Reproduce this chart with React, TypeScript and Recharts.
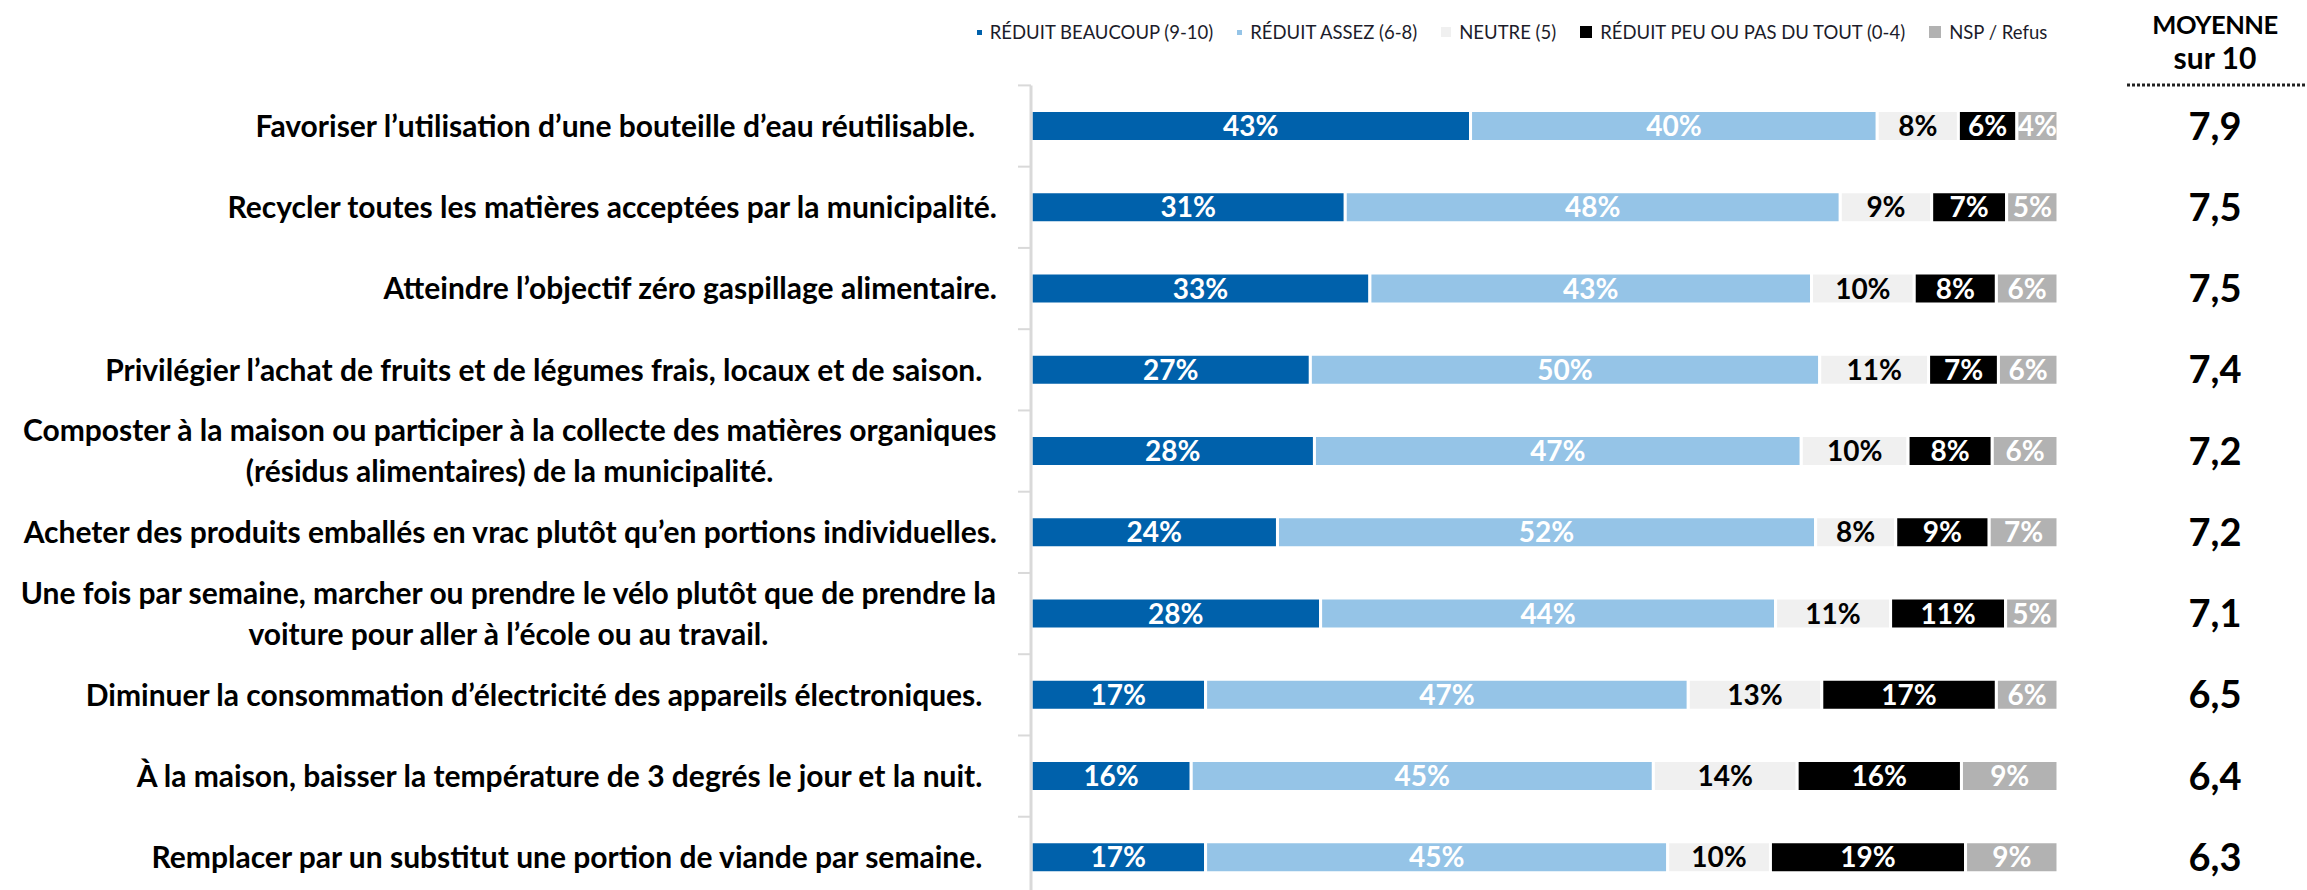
import React from 'react';
import { BarChart, Bar, XAxis, YAxis, LabelList, Legend } from 'recharts';

// ---------- DATA ----------
const categories: string[] = [
  'Favoriser l’utilisation d’une bouteille d’eau réutilisable.\u00A0\u00A0\u00A0',
  'Recycler toutes les matières acceptées par la municipalité.',
  'Atteindre l’objectif zéro gaspillage alimentaire.',
  'Privilégier l’achat de fruits et de légumes frais, locaux et de saison.\u00A0\u00A0',
  'Composter à la maison ou participer à la collecte des matières organiques\n(résidus alimentaires) de la municipalité.',
  'Acheter des produits emballés en vrac plutôt qu’en portions individuelles.',
  'Une fois par semaine, marcher ou prendre le vélo plutôt que de prendre la\nvoiture pour aller à l’école ou au travail.',
  'Diminuer la consommation d’électricité des appareils électroniques.\u00A0\u00A0',
  'À la maison, baisser la température de 3 degrés le jour et la nuit.\u00A0\u00A0',
  'Remplacer par un substitut une portion de viande par semaine.\u00A0\u00A0',
];

const reduitBeaucoup: number[] = [42.8, 30.6, 33, 27.2, 27.6, 24, 28.2, 17, 15.6, 17];
const reduitAssez: number[] = [39.6, 48.2, 43, 49.6, 47.4, 52.4, 44.3, 47, 45, 45];
const neutre: number[] = [7.9, 8.9, 10, 10.6, 10.4, 7.8, 11.2, 13, 14, 10];
const reduitPeu: number[] = [5.7, 7.3, 8, 6.8, 8.2, 9.1, 11.2, 17, 16, 19];
const nspRefus: number[] = [4.0, 5.0, 6, 5.8, 6.4, 6.7, 5.1, 6, 9.4, 9];

const moyennes: number[] = [7.9, 7.5, 7.5, 7.4, 7.2, 7.2, 7.1, 6.5, 6.4, 6.3];

const seriesNames: string[] = [
  'RÉDUIT BEAUCOUP (9-10)',
  'RÉDUIT ASSEZ (6-8)',
  'NEUTRE (5)',
  'RÉDUIT PEU OU PAS DU TOUT (0-4)',
  'NSP / Refus',
];
const seriesKeys = ['s0', 's1', 's2', 's3', 's4'];
const seriesValues = [reduitBeaucoup, reduitAssez, neutre, reduitPeu, nspRefus];
const seriesColors = ['#0061AB', '#95C4E7', '#F0F0F0', '#000000', '#B2B2B2'];
const labelColors = ['#FFFFFF', '#FFFFFF', '#000000', '#FFFFFF', '#FFFFFF'];
const legendMarkerSizes = [5, 5, 10, 12, 12];

const headerTitle = 'MOYENNE';
const headerSub = 'sur 10';

const data = categories.map((name, i) => {
  const row: any = { name, mean: moyennes[i] };
  seriesKeys.forEach((k, j) => { row[k] = seriesValues[j][i]; });
  return row;
});

// ---------- LAYOUT ----------
const W = 2307;
const H = 898;
const PLOT_LEFT = 1031;
const PLOT_RIGHT = 2058;
const PLOT_TOP = 85.4;
const BAND = (H - PLOT_TOP) / categories.length;
const LABEL_RIGHT = 997;
const MEAN_X = 2215;
const FONT = "Lato, 'Noto Sans', sans-serif";
const CAT_FS = 30;
const PCT_FS = 28;
const MEAN_FS = 38;
const LEGEND_FS = 18.5;
const LINE_GAP = 41;
const LEGEND_CENTER = 1512;

let measureCanvas: HTMLCanvasElement | null = null;
function measure(text: string, font: string): number {
  if (!measureCanvas) measureCanvas = document.createElement('canvas');
  const ctx = measureCanvas.getContext('2d');
  if (!ctx) return text.length * 12;
  ctx.font = font;
  return ctx.measureText(text).width;
}

function CatTick(props: any) {
  const { y, payload, index } = props;
  const lines = String(payload.value).split('\n');
  const base = CAT_FS * 0.36;
  const texts: any[] = [];
  if (lines.length === 1) {
    texts.push(
      <text key="t0" x={LABEL_RIGHT} y={y + base} textAnchor="end" fontFamily={FONT} fontWeight={700} fontSize={CAT_FS} fill="#000">
        {lines[0]}
      </text>
    );
  } else {
    const w = measure(lines[0], `bold ${CAT_FS}px Lato`);
    const cx = LABEL_RIGHT - w / 2;
    lines.forEach((l, k) => {
      texts.push(
        <text key={'t' + k} x={cx} y={y + (k - (lines.length - 1) / 2) * LINE_GAP + base} textAnchor="middle" fontFamily={FONT} fontWeight={700} fontSize={CAT_FS} fill="#000">
          {l}
        </text>
      );
    });
  }
  return (
    <g>
      <line x1={PLOT_LEFT - 13} x2={PLOT_LEFT} y1={y - BAND / 2} y2={y - BAND / 2} stroke="#D9D9D9" strokeWidth={2} />
      {index === categories.length - 1 && (
        <line x1={PLOT_LEFT - 13} x2={PLOT_LEFT} y1={y + BAND / 2} y2={y + BAND / 2} stroke="#D9D9D9" strokeWidth={2} />
      )}
      {texts}
    </g>
  );
}

const makePctLabel = (si: number) => (p: any) => {
  const vb = p.viewBox || p;
  const x = vb.x + vb.width / 2;
  const cy = vb.y + vb.height / 2;
  return (
    <text x={x} y={cy + PCT_FS * 0.36} textAnchor="middle" fontFamily={FONT} fontWeight={700} fontSize={PCT_FS} fill={labelColors[si]}>
      {Math.round(Number(p.value)) + '%'}
    </text>
  );
};

const meanLabel = (p: any) => {
  const vb = p.viewBox || p;
  const cy = vb.y + vb.height / 2;
  return (
    <text x={MEAN_X} y={cy + MEAN_FS * 0.36} textAnchor="middle" fontFamily={FONT} fontWeight={700} fontSize={MEAN_FS} fill="#000">
      {Number(p.value).toFixed(1).replace('.', ',')}
    </text>
  );
};

function LegendContent() {
  return (
    <div style={{ display: 'flex', justifyContent: 'center', alignItems: 'center', height: 64, fontFamily: FONT, fontSize: LEGEND_FS, color: '#1c1c2a' }}>
      {seriesNames.map((n, i) => (
        <div key={n} style={{ display: 'flex', alignItems: 'center', marginRight: i < seriesNames.length - 1 ? 24 : 0 }}>
          <span style={{ display: 'inline-block', width: legendMarkerSizes[i], height: legendMarkerSizes[i], background: seriesColors[i], marginRight: 8 }} />
          <span style={{ whiteSpace: 'nowrap' }}>{n}</span>
        </div>
      ))}
    </div>
  );
}

export default function App() {
  return (
    <div style={{ position: 'fixed', left: 0, top: 0, width: W, height: 890, overflow: 'hidden', background: '#fff' }}>
      <BarChart
        width={W}
        height={H}
        data={data}
        layout="vertical"
        margin={{ top: PLOT_TOP, right: W - PLOT_RIGHT, left: 0, bottom: 0 }}
        barSize={31}
      >
        <XAxis type="number" domain={[0, 100]} hide allowDataOverflow />
        <YAxis
          type="category"
          dataKey="name"
          width={PLOT_LEFT}
          axisLine={{ stroke: '#D9D9D9', strokeWidth: 3 }}
          tickLine={false}
          interval={0}
          tick={(p: any) => <CatTick {...p} />}
        />
        <Legend
          layout="horizontal"
          verticalAlign="middle"
          align="center"
          content={() => <LegendContent />}
          wrapperStyle={{ position: 'absolute', top: 0, left: LEGEND_CENTER - 700, width: 1400, height: 64 }}
        />
        {seriesKeys.map((k, i) => (
          <Bar key={k} dataKey={k} name={seriesNames[i]} stackId="a" fill={seriesColors[i]} stroke="#FFFFFF" strokeWidth={3} isAnimationActive={false}>
            <LabelList dataKey={k} content={makePctLabel(i)} />
            {i === seriesKeys.length - 1 && <LabelList dataKey="mean" content={meanLabel} />}
          </Bar>
        ))}
      </BarChart>
      <svg width={W} height={100} style={{ position: 'absolute', left: 0, top: 0, pointerEvents: 'none' }}>
        <text x={MEAN_X} y={25 + 25.5 * 0.36} textAnchor="middle" fontFamily={FONT} fontWeight={700} fontSize={25.5} letterSpacing={-0.5} fill="#000">{headerTitle}</text>
        <text x={MEAN_X} y={69} textAnchor="middle" fontFamily={FONT} fontWeight={700} fontSize={30} fill="#000">{headerSub}</text>
        <line x1={2127} x2={W} y1={85} y2={85} stroke="#222" strokeWidth={3} strokeDasharray="3 2" />
      </svg>
    </div>
  );
}
